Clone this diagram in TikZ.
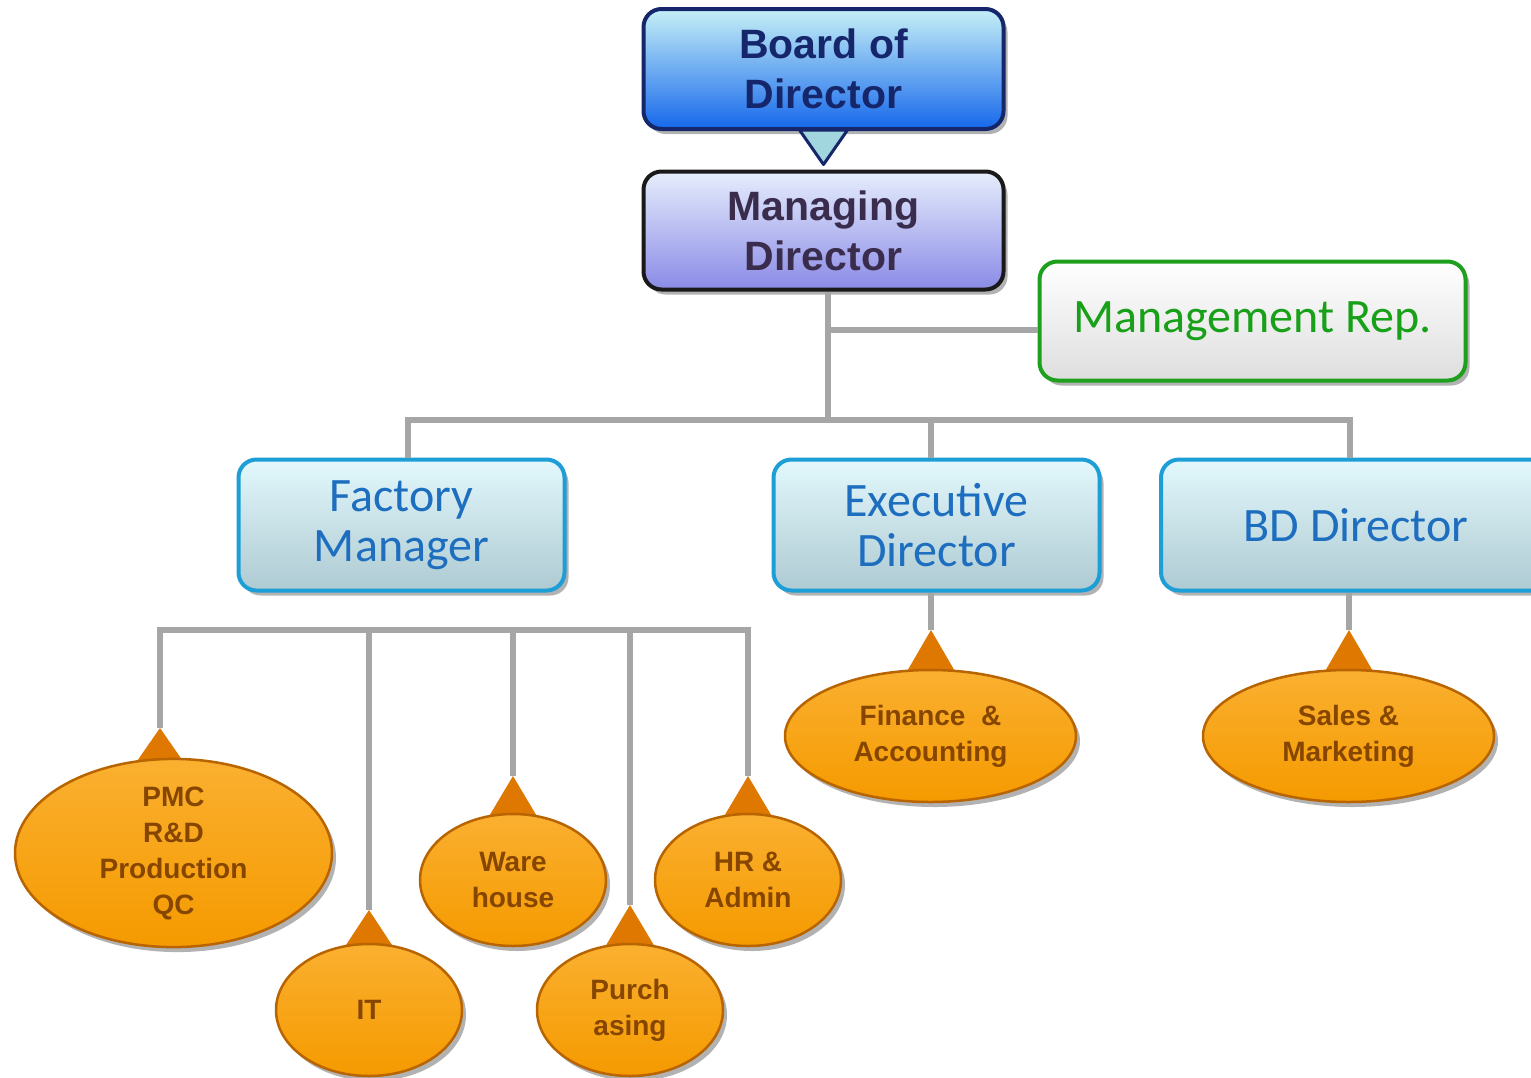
\documentclass[tikz,border=0pt]{standalone}
\usepackage{fontspec}
\setmainfont{Liberation Sans}
\newfontfamily\calfont{Carlito}
\usetikzlibrary{shapes.geometric,shadows,calc}
\definecolor{navy}{HTML}{16266A}
\definecolor{boardTop}{HTML}{C6F0F6}
\definecolor{boardMid}{HTML}{4AB4F2}
\definecolor{boardBot}{HTML}{1668EC}
\definecolor{mdTop}{HTML}{E6EEFC}
\definecolor{mdBot}{HTML}{8A8AE6}
\definecolor{mdText}{HTML}{3A2C4C}
\definecolor{mrBorder}{HTML}{1EA01E}
\definecolor{mrText}{HTML}{18A018}
\definecolor{cyBorder}{HTML}{1E9ED6}
\definecolor{cyTop}{HTML}{E2F8FC}
\definecolor{cyBot}{HTML}{AECAD2}
\definecolor{cyText}{HTML}{1E6EC0}
\definecolor{ellTop}{HTML}{FAB030}
\definecolor{ellBot}{HTML}{F59A00}
\definecolor{ellBorder}{HTML}{B86400}
\definecolor{ellText}{HTML}{864600}
\definecolor{triOr}{HTML}{DE7800}
\definecolor{triTeal}{HTML}{A2D6DE}
\definecolor{connGray}{HTML}{A6A6A6}
\begin{document}
\begin{tikzpicture}[x=1pt,y=-1pt,
  shad/.style={drop shadow={shadow xshift=4pt,shadow yshift=-5pt,opacity=0.3,fill=black}},
  box/.style={rectangle,rounded corners=18pt,line width=4pt,align=center,inner sep=0pt,shad},
  boardbox/.style={box,draw=navy,top color=boardTop,middle color=boardMid,bottom color=boardBot,
     text=navy,font=\bfseries\fontsize{41}{50}\selectfont,minimum width=360pt,minimum height=120pt},
  mdbox/.style={box,draw=black!90,top color=mdTop,bottom color=mdBot,
     text=mdText,font=\bfseries\fontsize{41}{50}\selectfont,minimum width=360pt,minimum height=118pt},
  mrbox/.style={box,draw=mrBorder,top color=white,bottom color=black!13,
     text=mrText,font=\calfont\fontsize{48}{50}\selectfont,minimum width=426pt,minimum height=119pt},
  cybox/.style={box,draw=cyBorder,top color=cyTop,bottom color=cyBot,
     text=cyText,font=\calfont\fontsize{48}{50}\selectfont,minimum width=326pt,minimum height=131pt},
  ell/.style={ellipse,draw=ellBorder,line width=2.5pt,top color=ellTop,bottom color=ellBot,
     text=ellText,font=\bfseries\fontsize{28}{36}\selectfont,align=center,inner sep=0pt,shad},
  conn/.style={draw=connGray,line width=6pt,line join=miter},
  tri/.style={fill=triOr}
]
\useasboundingbox (0,0) rectangle (1531,1077);

% junction coordinates
\coordinate (jM) at (828,420);
\coordinate (jR) at (828,330);
\coordinate (jF) at (408,420);
\coordinate (jE) at (931,420);
\coordinate (jB) at (1350,420);
\coordinate (busF) at (0,630);
% apex coordinates of the orange pointers
\coordinate (aPMC) at (160,728);
\coordinate (aIT) at (369,910);
\coordinate (aWH) at (513,776);
\coordinate (aPU) at (630,905);
\coordinate (aHR) at (748,776);
\coordinate (aFin) at (931,630);
\coordinate (aSal) at (1349,630);

% boxes
\node[boardbox] (board) at (823.5,69) {Board of\\Director};
\node[mdbox] (md) at (823.5,230.5) {Managing\\Director};
\node[mrbox] (mr) at (1252.5,321) {Management Rep.};
\node[cybox] (fm) at (401.5,525) {Factory\\Manager};
\node[cybox] (ed) at (936.5,525) {Executive\\Director};
\node[cybox,minimum width=390pt] (bd) at (1356,525) {BD Director};

% board -> managing pointer
\draw[fill=triTeal,draw=navy,line width=3pt,line join=round]
  ($(board.south)+(-24,-1)$) -- ($(board.south)+(24,-1)$) -- ($(md.north)+(0,-5)$) -- cycle;

% connectors
\draw[conn] (md.south -| jM) -- (jM);
\draw[conn] (jR) -- (mr.west |- jR);
\draw[conn] (fm.north -| jF) -- (jF) -- (jB) -- (bd.north -| jB);
\draw[conn] (jE) -- (ed.north -| jE);
\draw[conn] (aPMC) -- (aPMC |- busF) -- (aHR |- busF) -- (aHR);
\draw[conn] (aIT |- busF) -- (aIT);
\draw[conn] (aWH |- busF) -- (aWH);
\draw[conn] (aPU |- busF) -- (aPU);
\draw[conn] (ed.south -| aFin) -- (aFin);
\draw[conn] (bd.south -| aSal) -- (aSal);

% orange pointers
\fill[tri] (aPMC) -- ++(-25,36) -- ++(50,0) -- cycle;
\fill[tri] (aIT) -- ++(-25,38) -- ++(50,0) -- cycle;
\fill[tri] (aWH) -- ++(-25,42) -- ++(50,0) -- cycle;
\fill[tri] (aPU) -- ++(-25,42) -- ++(50,0) -- cycle;
\fill[tri] (aHR) -- ++(-25,42) -- ++(50,0) -- cycle;
\fill[tri] (aFin) -- ++(-25,43) -- ++(50,0) -- cycle;
\fill[tri] (aSal) -- ++(-25,43) -- ++(50,0) -- cycle;

% department ellipses
\node[ell,minimum width=317pt,minimum height=184pt] (pmc) at (173.5,853) {PMC\\R\&D\\Production\\QC};
\node[ell,minimum width=186pt,minimum height=132pt] (it) at (369,1010) {IT};
\node[ell,minimum width=186pt,minimum height=132pt] (wh) at (513,880) {Ware\\house};
\node[ell,minimum width=186pt,minimum height=132pt] (pu) at (630,1010) {Purch\\asing};
\node[ell,minimum width=186pt,minimum height=132pt] (hr) at (748,880) {HR \&\\Admin};
\node[ell,minimum width=291pt,minimum height=132pt] (fin) at (930.5,736) {Finance \ \&\\Accounting};
\node[ell,minimum width=291pt,minimum height=132pt] (sal) at (1348.5,736) {Sales \&\\Marketing};
\end{tikzpicture}
\end{document}
